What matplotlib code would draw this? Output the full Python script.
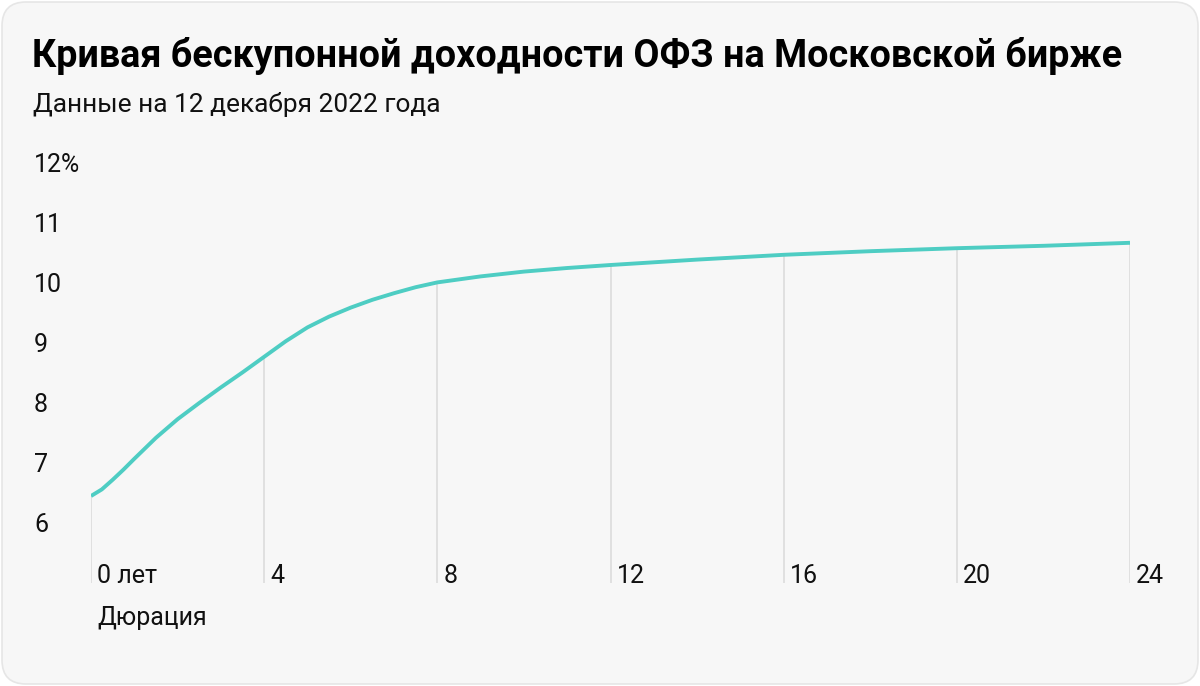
import matplotlib.pyplot as plt
from matplotlib.patches import FancyBboxPatch

# значения
years = [0, 0.25, 0.5, 0.75, 1, 1.5, 2, 2.5, 3, 3.5, 4, 4.5, 5, 5.5, 6, 6.5, 7,
         7.5, 8, 9, 10, 11, 12, 14, 16, 18, 20, 22, 24]
yields = [6.45, 6.56, 6.72, 6.89, 7.07, 7.42, 7.73, 8.0, 8.26, 8.51, 8.77, 9.03,
          9.26, 9.44, 9.59, 9.72, 9.83, 9.93, 10.01, 10.11, 10.19, 10.25, 10.3,
          10.39, 10.47, 10.53, 10.58, 10.62, 10.67]
x_ticks = [0, 4, 8, 12, 16, 20, 24]
x_labels = ["0 лет", "4", "8", "12", "16", "20", "24"]
y_ticks = [6, 7, 8, 9, 10, 11, 12]
y_labels = ["6", "7", "8", "9", "10", "11", "12%"]

title = "Кривая бескупонной доходности ОФЗ на Московской бирже"
subtitle = "Данные на 12 декабря 2022 года"

plt.rcParams["font.family"] = ["Roboto", "DejaVu Sans"]
W, H = 1200, 686
fig = plt.figure(figsize=(W / 100, H / 100), dpi=100)
fig.patch.set_facecolor("white")
fig.patches.append(FancyBboxPatch((2 / W, 2 / H), (W - 4) / W, (H - 4) / H,
                                  boxstyle="round,pad=0,rounding_size=0.02",
                                  transform=fig.transFigure, facecolor="#f7f7f7",
                                  edgecolor="#e6e6e6", linewidth=1.2,
                                  mutation_aspect=W / H, zorder=-10))

ax = fig.add_axes([91 / W, 1 - 583 / H, (1130 - 91) / W, (583 - 163) / H])
ax.set_facecolor("none")
ax.set_xlim(0, 24)
ax.set_ylim(5, 12)
for s in ax.spines.values():
    s.set_visible(False)

drop = [yields[years.index(t)] for t in x_ticks]
ax.vlines(x_ticks, 5, drop, color="#dedede", linewidth=1.3, zorder=1)
ax.plot(years, yields, color="#4ecdc3", linewidth=2.8, solid_capstyle="butt",
        solid_joinstyle="round", zorder=2)

ax.set_yticks(y_ticks)
ax.set_yticklabels(y_labels, fontsize=18, color="#111111", ha="left")
ax.tick_params(axis="y", length=0, pad=(91 - 34) * 0.72)
ax.set_xticks([])
for t, lab in zip(x_ticks, x_labels):
    ax.annotate(lab, (t, 5), xytext=(4.5, 0), textcoords="offset points",
                ha="left", va="baseline", fontsize=18, color="#111111",
                annotation_clip=False)

fig.text(32 / W, 1 - 67 / H, title, fontsize=27.2, fontweight="bold",
         color="#000000", va="baseline")
fig.text(33 / W, 1 - 112 / H, subtitle, fontsize=18.9, color="#111111", va="baseline")
fig.text(97 / W, 1 - 625 / H, "Дюрация", fontsize=18, color="#111111", va="baseline")

fig.savefig("out.png", dpi=100)
